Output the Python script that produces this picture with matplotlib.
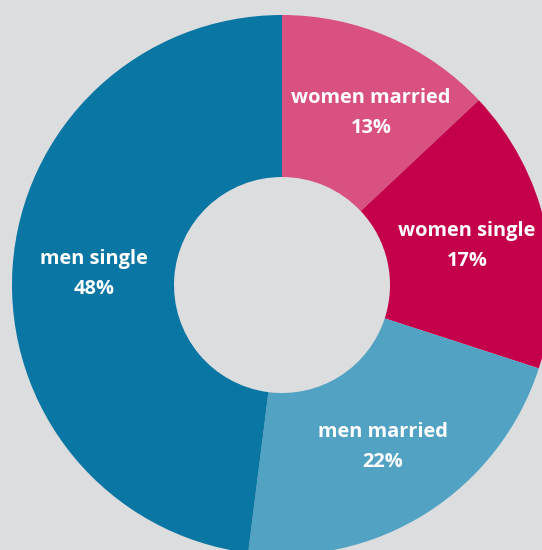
import matplotlib
matplotlib.use("Agg")
import matplotlib.pyplot as plt

categories = ["women married", "women single", "men married", "men single"]
values = [13, 17, 22, 48]
colors = ["#d95180", "#c5004a", "#52a3c3", "#0a76a3"]
# label centres in pixel coordinates (x, y from top)
label_pos = [(371, 113), (467, 246), (383, 447), (94, 274)]

W, H = 542, 550
bg = "#dcdddf"
fig = plt.figure(figsize=(W / 100, H / 100), dpi=100, facecolor=bg)
ax = fig.add_axes([0, 0, 1, 1])
ax.set_facecolor(bg)

cx, cy, R = 282, H - 285, 270
ax.pie(values, colors=colors, startangle=90, counterclock=False,
       center=(cx, cy), radius=R,
       wedgeprops=dict(width=R * 0.6, linewidth=0))

for name, v, (x, y) in zip(categories, values, label_pos):
    ax.text(x, H - y, f"{name}\n{v}%", ha="center", va="center",
            color="white", fontsize=14.4, fontweight="bold",
            family=["Open Sans", "DejaVu Sans"], linespacing=1.62)

ax.set_xlim(0, W)
ax.set_ylim(0, H)
ax.set_aspect("auto")
ax.axis("off")
fig.savefig("out.png", dpi=100, facecolor=bg)
